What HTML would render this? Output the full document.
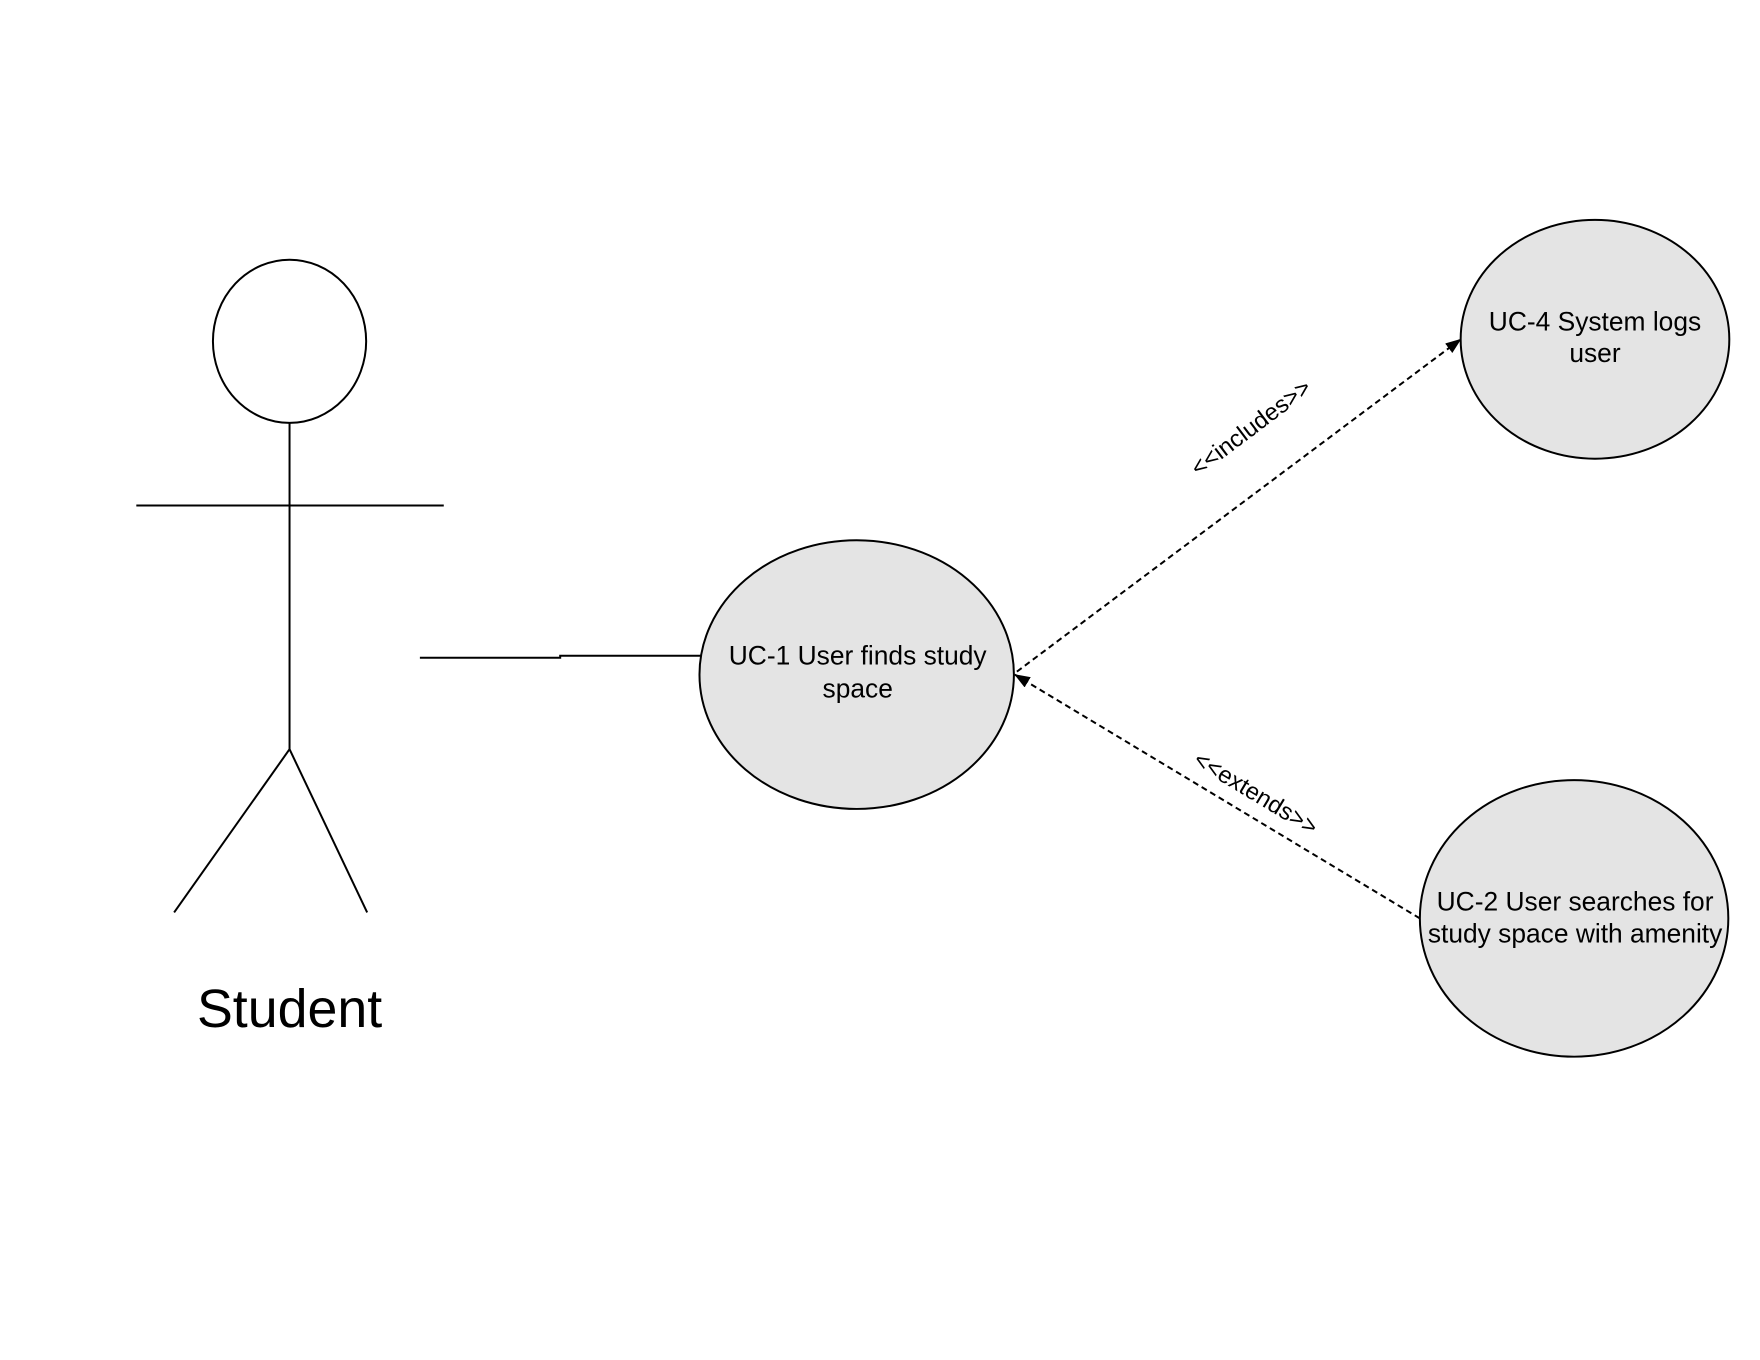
<!DOCTYPE html>
<html><head><meta charset="utf-8"><style>
html,body{margin:0;padding:0;background:#fff;}
svg{display:block;}
text{font-family:"Liberation Sans",sans-serif;fill:#000;}
</style></head><body>
<svg width="1760" height="1360" viewBox="0 0 1760 1360" xmlns="http://www.w3.org/2000/svg">
<defs>
<marker id="ah" markerWidth="16" markerHeight="12" refX="15" refY="6" orient="auto" markerUnits="userSpaceOnUse">
<path d="M0,0 L16,6 L0,12 z" fill="#000"/>
</marker>
</defs>
<g transform="scale(0.995)">
<g fill="none" stroke="#000" stroke-width="2">
<ellipse cx="291" cy="343" rx="77" ry="82" fill="#fff"/>
<line x1="291" y1="425" x2="291" y2="753"/>
<line x1="137" y1="508" x2="446" y2="508"/>
<line x1="291" y1="753" x2="175" y2="917"/>
<line x1="291" y1="753" x2="369" y2="917"/>
<polyline points="422,661 563,661 563,659 704,659"/>
</g>
<g stroke="#000" stroke-width="2" fill="#e4e4e4">
<ellipse cx="861" cy="678" rx="158" ry="135"/>
<ellipse cx="1603" cy="341" rx="135" ry="120"/>
<ellipse cx="1582" cy="923" rx="155" ry="139"/>
</g>
<g stroke="#000" stroke-width="2" fill="none" stroke-dasharray="6,4">
<line x1="1022" y1="675" x2="1468" y2="341" marker-end="url(#ah)"/>
<line x1="1427" y1="923" x2="1020" y2="678" marker-end="url(#ah)"/>
</g>
<text x="291" y="1032" font-size="54" text-anchor="middle">Student</text>
<g font-size="26.5" text-anchor="middle">
<text x="862" y="668">UC-1 User finds study</text>
<text x="862" y="701">space</text>
<text x="1603" y="332">UC-4 System logs</text>
<text x="1603" y="364">user</text>
<text x="1583" y="915">UC-2 User searches for</text>
<text x="1583" y="947">study space with amenity</text>
</g>
<text x="0" y="0" font-size="24" text-anchor="middle" transform="translate(1262,436) rotate(-37)">&lt;&lt;includes&gt;&gt;</text>
<text x="0" y="0" font-size="24" text-anchor="middle" transform="translate(1258,804) rotate(31)">&lt;&lt;extends&gt;&gt;</text>
</g>
</svg>
</body></html>
